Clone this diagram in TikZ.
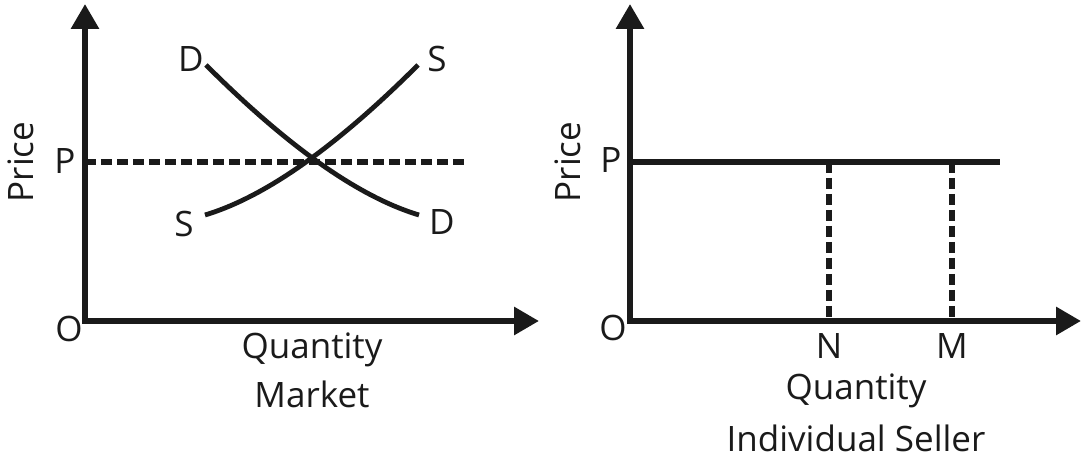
\documentclass[tikz,border=0pt]{standalone}
\usepackage{fontspec}
\setmainfont{Open Sans}
\usepackage{xcolor}
\definecolor{cInk}{HTML}{1A1A1A}
\usetikzlibrary{arrows.meta,calc}
\tikzset{
  plot-axis/.style={draw=cInk,line width=3pt,line join=miter,
    {Triangle[length=12.5pt,width=13.5pt]}-{Triangle[length=12.5pt,width=13.5pt]}},
  plot-curve/.style={draw=cInk,line width=2.4pt},
  plot-guide/.style={draw=cInk,line width=3pt,dash pattern=on 5.5pt off 2.5pt},
  plot-level/.style={draw=cInk,line width=3pt},
  plot-label/.style={text=cInk,anchor=base,inner sep=0pt,
    font=\fontsize{17.5}{21}\selectfont},
}

\begin{document}
\begin{tikzpicture}[x=0.5pt,y=0.5pt]
  \useasboundingbox (-85,-137) rectangle (996,321);
  % market
  \coordinate (o1) at (0,0);
  \coordinate (py1) at (0,317);
  \coordinate (px1) at (454,0);
  \coordinate (pl1) at (0,159);
  \coordinate (pr1) at (381,159);
  \coordinate (d-top) at (121,256);
  \coordinate (d-bot) at (334,106);
  \coordinate (s-bot) at (120,106);
  \coordinate (s-top) at (333,256);
  \draw[plot-axis] (py1) -- (o1) -- (px1);
  \draw[plot-guide] (pl1) -- (pr1);
  \draw[plot-curve] (d-top) .. controls (203,174) and (274,124) .. (d-bot);
  \draw[plot-curve] (s-bot) .. controls (180,124) and (251,174) .. (s-top);
  \node[plot-label,rotate=90] (price1) at (-51,159) {Price};
  \node[plot-label] (p1) at (-20,147) {P};
  \node[plot-label] (zero1) at (-16,-21) {O};
  \node[plot-label] (dl) at (106,249) {D};
  \node[plot-label] (sr) at (352,249) {S};
  \node[plot-label] (sl) at (99,84) {S};
  \node[plot-label] (dr) at (357,86) {D};
  \node[plot-label] (qty1) at (227,-38) {Quantity};
  \node[plot-label] (mkt) at (227,-87) {Market};
  % individual seller
  \coordinate (o2) at (545,0);
  \coordinate (py2) at (545,317);
  \coordinate (px2) at (996,0);
  \coordinate (pl2) at (545,159);
  \coordinate (pr2) at (915,159);
  \coordinate (nt) at (744,159);
  \coordinate (nb) at (744,0);
  \coordinate (mt) at (867,159);
  \coordinate (mb) at (867,0);
  \draw[plot-axis] (py2) -- (o2) -- (px2);
  \draw[plot-level] (pl2) -- (pr2);
  \draw[plot-guide] (nt) -- (nb);
  \draw[plot-guide] (mt) -- (mb);
  \node[plot-label,rotate=90] (price2) at (495,159) {Price};
  \node[plot-label] (p2) at (526,148) {P};
  \node[plot-label] (zero2) at (528,-20) {O};
  \node[plot-label] (n) at (744,-38) {N};
  \node[plot-label] (m) at (867,-38) {M};
  \node[plot-label] (qty2) at (771,-79) {Quantity};
  \node[plot-label] (seller) at (771,-131) {Individual Seller};
\end{tikzpicture}
\end{document}
